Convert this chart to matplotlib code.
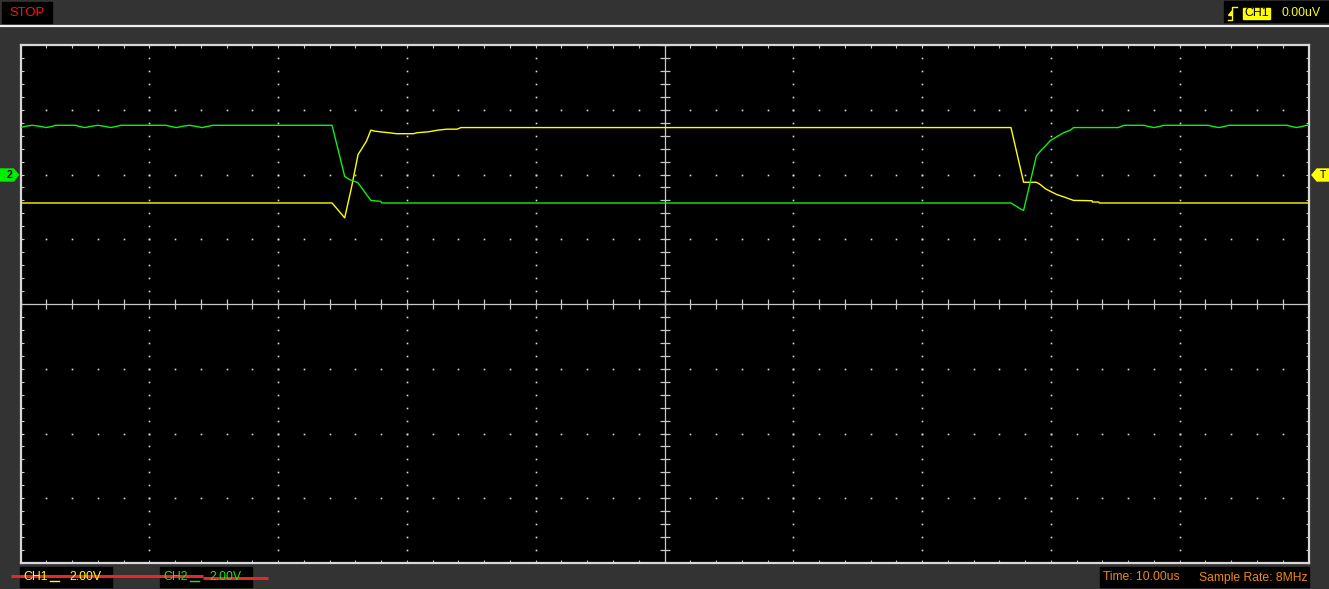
import numpy as np
import matplotlib
matplotlib.use("Agg")
import matplotlib.pyplot as plt
from matplotlib.patches import Rectangle, Polygon

plt.rcParams['font.family'] = ['Liberation Sans', 'DejaVu Sans']

# ---------------- data (time in us, voltage in V, 2 V/div, 10 us/div) ----------------
ch2_time = [-50.0, -49.6, -49.1, -48.5, -48.0, -47.5, -47.3, -45.7, -45.5, -45.0,
            -44.5, -44.0, -43.5, -43.0, -42.5, -42.2, -38.7, -38.4, -37.9, -37.4,
            -36.9, -36.4, -35.9, -35.4, -35.1, -25.81, -24.83, -24.44, -23.81, -22.80,
            -22.03, -21.95, 26.90, 27.39, 27.62, 27.88, 28.87, 29.18, 29.57, 29.96,
            30.47, 30.99, 31.51, 31.76, 35.24, 35.47, 35.70, 37.26, 37.49, 38.0,
            38.5, 38.74, 42.23, 42.50, 43.05, 43.55, 43.78, 48.37, 48.60, 49.07,
            49.57, 49.84, 50.0]
ch2_volts = [5.45, 5.49, 5.52, 5.49, 5.45, 5.49, 5.52, 5.52, 5.49, 5.45,
             5.49, 5.52, 5.49, 5.45, 5.49, 5.52, 5.52, 5.49, 5.45, 5.49,
             5.52, 5.49, 5.45, 5.49, 5.52, 5.52, 3.94, 3.84, 3.75, 3.20,
             3.17, 3.12, 3.12, 3.00, 2.94, 2.89, 4.57, 4.72, 4.88, 5.05,
             5.17, 5.29, 5.37, 5.45, 5.45, 5.49, 5.52, 5.52, 5.49, 5.45,
             5.49, 5.52, 5.52, 5.49, 5.45, 5.49, 5.52, 5.52, 5.49, 5.45,
             5.49, 5.52, 5.52]

ch1_time = [-50.0, -25.81, -24.83, -24.30, -23.79, -23.53, -23.14, -22.80, -22.5, -21.9,
            -21.4, -20.8, -19.5, -19.2, -18.3, -17.6, -16.9, -16.1, -15.8, 26.90,
            27.88, 28.87, 29.18, 29.57, 29.96, 30.47, 30.99, 31.76, 33.19, 33.22,
            33.71, 33.76, 50.0]
ch1_volts = [3.12, 3.12, 2.66, 3.60, 4.62, 4.78, 5.03, 5.37, 5.34, 5.31,
             5.29, 5.26, 5.26, 5.29, 5.32, 5.37, 5.40, 5.40, 5.45, 5.45,
             3.76, 3.76, 3.69, 3.56, 3.48, 3.38, 3.31, 3.20, 3.19, 3.15,
             3.15, 3.12, 3.12]

status_text = "STOP"
trigger_channel = "CH1"
trigger_level = "0.00uV"
ch1_scale = "2.00V"
ch2_scale = "2.00V"
time_text = "Time: 10.00us"
rate_text = "Sample Rate: 8MHz"

# ---------------- figure ----------------
W, H = 1329, 589
BG = '#333333'
YEL = '#ffff00'
GRN = '#10f010'
fig = plt.figure(figsize=(W / 100, H / 100), dpi=100, facecolor=BG)

# plot area in pixels
x0, x1, y0, y1 = 20.5, 1308.5, 45, 563
ax = fig.add_axes([x0 / W, (H - y1) / H, (x1 - x0) / W, (y1 - y0) / H])
ax.set_facecolor('black')
ax.set_xlim(-50, 50)
ax.set_ylim(-8, 8)
for s in ax.spines.values():
    s.set_color('#d8d8d8')
    s.set_linewidth(1.6)

ax.set_xticks(np.arange(-50, 50.01, 2))
ax.set_yticks(np.arange(-8, 8.01, 0.4))
ax.tick_params(direction='in', length=2.2, width=0.8, color='#c8c8c8',
               top=True, bottom=True, left=True, right=True,
               labelbottom=False, labelleft=False)

# dotted grid
dot_kw = dict(ls='none', marker='s', ms=1.2, mew=0, color='#d8d8d8')
minor_y = np.arange(-8, 8.01, 0.4)
minor_x = np.arange(-50, 50.01, 2)
for gx in [-40, -30, -20, -10, 10, 20, 30, 40]:
    ax.plot(np.full_like(minor_y, gx), minor_y, **dot_kw)
for gy in [-6, -4, -2, 2, 4, 6]:
    ax.plot(minor_x, np.full_like(minor_x, gy), **dot_kw)

# centre cross with ticks
ax.axhline(0, color='#c8c8c8', lw=0.9)
ax.axvline(0, color='#c8c8c8', lw=0.9)
ax.plot(minor_x, np.zeros_like(minor_x), ls='none', marker='|', ms=7, mew=0.9, color='#c8c8c8')
ax.plot(np.zeros_like(minor_y), minor_y, ls='none', marker='_', ms=6.5, mew=0.9, color='#c8c8c8')

# traces
ax.plot(ch1_time, ch1_volts, color=YEL, lw=1.0, zorder=5)
ax.plot(ch2_time, ch2_volts, color=GRN, lw=1.0, zorder=6)

# ---------------- overlay (pixel coordinates) ----------------
ov = fig.add_axes([0, 0, 1, 1])
ov.set_xlim(0, W)
ov.set_ylim(H, 0)
ov.axis('off')
ov.patch.set_alpha(0)

# top separator line
ov.plot([0, W], [26, 26], color='#f0f0f0', lw=1.6)

# STOP box
ov.add_patch(Rectangle((2, 2), 50, 21, color='black'))
ov.text(27, 12.5, status_text, color='#ff1010', fontsize=9.4, ha='center', va='center')

# trigger box
ov.add_patch(Rectangle((1224, 1), 105, 21, color='black'))
ov.plot([1228, 1232, 1232, 1237], [20, 20, 7, 7], color=YEL, lw=1.0)
ov.add_patch(Polygon([(1228.5, 15.5), (1232, 11), (1232, 15.5)], closed=True, color=YEL))
ov.add_patch(Rectangle((1243, 7.5), 27, 11, color=YEL))
ov.text(1256.5, 13, trigger_channel, color='black', fontsize=8.9, ha='center', va='center')
ov.text(1282, 13, trigger_level, color=YEL, fontsize=8.9, ha='left', va='center')

# channel markers
ov.add_patch(Polygon([(0, 169), (13.5, 169), (18.5, 175), (13.5, 181), (0, 181)],
                     closed=True, color='#00ee00'))
ov.text(9.5, 175.5, "2", color='black', fontsize=7.5, fontweight='bold', ha='center', va='center')
ov.add_patch(Polygon([(1329, 169), (1317, 169), (1312, 175), (1317, 181), (1329, 181)],
                     closed=True, color=YEL))
ov.text(1322.5, 175.5, "T", color='black', fontsize=7.5, ha='center', va='center')

# bottom channel scale boxes
ov.add_patch(Rectangle((20, 567), 92, 20, color='black'))
ov.text(23, 577.5, "CH1", color=YEL, fontsize=8.8, ha='left', va='center')
ov.plot([50, 59], [580.5, 580.5], color=YEL, lw=1.0)
ov.text(101, 577.5, ch1_scale, color=YEL, fontsize=8.8, ha='right', va='center')

ov.add_patch(Rectangle((160, 567), 92, 20, color='black'))
ov.text(163, 577.5, "CH2", color=GRN, fontsize=8.8, ha='left', va='center')
ov.plot([190, 199], [580.5, 580.5], color=GRN, lw=1.0)
ov.text(241, 577.5, ch2_scale, color=GRN, fontsize=8.8, ha='right', va='center')

# red strike line
ov.plot([11, 203], [576, 576], color='#e8262a', lw=2.2, solid_capstyle='butt')
ov.plot([203, 268], [578, 578], color='#e8262a', lw=2.2, solid_capstyle='butt')

# time / sample rate box
ov.add_patch(Rectangle((1100, 567), 209, 20, color='black'))
ov.text(1103, 577.5, time_text, color='#ee8a10', fontsize=8.7, ha='left', va='center')
ov.text(1199, 577.5, rate_text, color='#ee8a10', fontsize=8.7, ha='left', va='center')

fig.savefig('out.png', dpi=100, facecolor=BG)
